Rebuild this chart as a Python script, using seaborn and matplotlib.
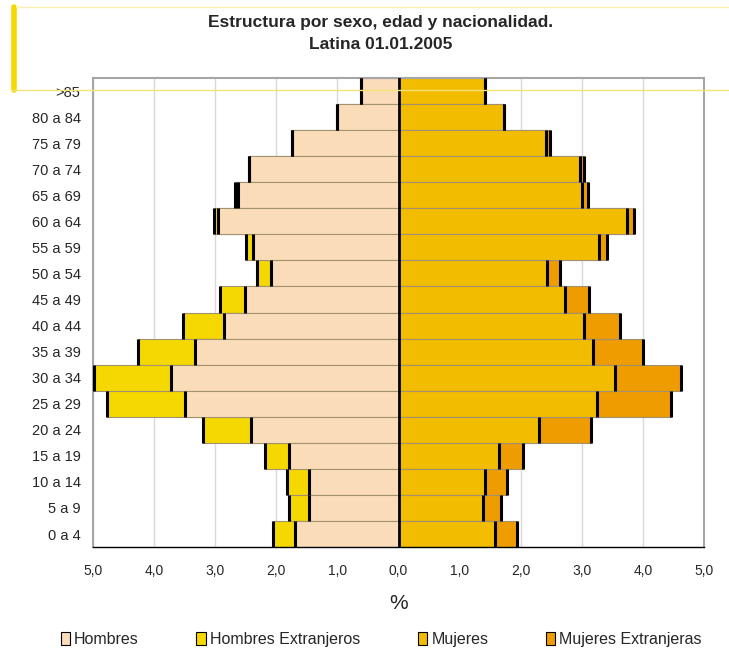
import numpy as np
import pandas as pd
import matplotlib
matplotlib.use("Agg")
import matplotlib.pyplot as plt
import seaborn as sns
from matplotlib.patches import Patch
from matplotlib.lines import Line2D
from matplotlib.ticker import FixedLocator, FuncFormatter

ages = [">85", "80 a 84", "75 a 79", "70 a 74", "65 a 69", "60 a 64", "55 a 59",
        "50 a 54", "45 a 49", "40 a 44", "35 a 39", "30 a 34", "25 a 29", "20 a 24",
        "15 a 19", "10 a 14", "5 a 9", "0 a 4"]
hombres = [0.61, 1.01, 1.74, 2.45, 2.63, 2.96, 2.38, 2.08, 2.51, 2.86, 3.33, 3.72,
           3.49, 2.41, 1.80, 1.47, 1.47, 1.70]
hombres_ext = [0.0, 0.0, 0.0, 0.0, 0.05, 0.06, 0.11, 0.24, 0.41, 0.67, 0.93, 1.26,
               1.28, 0.79, 0.39, 0.36, 0.33, 0.36]
mujeres = [1.42, 1.73, 2.42, 2.97, 3.01, 3.74, 3.28, 2.43, 2.72, 3.04, 3.18, 3.55,
           3.25, 2.30, 1.65, 1.42, 1.38, 1.58]
mujeres_ext = [0.0, 0.0, 0.06, 0.06, 0.09, 0.11, 0.14, 0.22, 0.39, 0.59, 0.82, 1.08,
               1.21, 0.85, 0.38, 0.35, 0.30, 0.36]

colors = {"Hombres": "#FADDB8", "Hombres Extranjeros": "#F5D800",
          "Mujeres": "#F2BC00", "Mujeres Extranjeras": "#EE9C00"}

sns.set_style("white")
plt.rcParams["font.family"] = ["Liberation Sans", "DejaVu Sans"]

h = np.array(hombres)
hx = h + np.array(hombres_ext)
m = np.array(mujeres)
mx = m + np.array(mujeres_ext)

fig = plt.figure(figsize=(7.29, 6.51), dpi=100)
ax = fig.add_axes([0.1276, 0.1597, 0.8381, 0.7205])

edge = "#a39270"
for vals, col in [(-hx, colors["Hombres Extranjeros"]), (-h, colors["Hombres"]),
                  (mx, colors["Mujeres Extranjeras"]), (m, colors["Mujeres"])]:
    sns.barplot(x=vals, y=ages, order=ages, orient="h", color=col, width=1.0,
                edgecolor=edge, linewidth=0.8, saturation=1, ax=ax, zorder=2)

# thick dark edge at the outer end of each segment
pos = np.arange(len(ages))
for vals in [-hx, -h, m, mx]:
    ax.vlines(vals, pos - 0.5, pos + 0.5, color="black", lw=2.2, zorder=3)
ax.axvline(0, color="black", lw=2, zorder=4)

ax.set_xlim(-5, 5)
ax.set_ylim(len(ages) - 0.5, -0.5)
ax.xaxis.set_major_locator(FixedLocator(np.arange(-5, 6, 1)))
ax.xaxis.set_major_formatter(FuncFormatter(lambda v, p: f"{abs(v):.1f}".replace(".", ",")))
ax.grid(axis="x", color="#d9d9d9", lw=1, zorder=0)
ax.set_axisbelow(True)
for s in ["top", "right", "left"]:
    ax.spines[s].set_color("#a6a6a6")
    ax.spines[s].set_linewidth(1.5)
ax.spines["bottom"].set_color("black")
ax.spines["bottom"].set_linewidth(1)
ax.tick_params(axis="x", direction="out", length=5, width=1, color="black",
               labelsize=10, pad=7)
ax.tick_params(axis="y", length=0, labelsize=10.5, pad=9)
ax.set_ylabel("")
ax.set_xlabel("%", fontsize=15, labelpad=12)

fig.text(0.522, 0.966, "Estructura por sexo, edad y nacionalidad.", ha="center",
         va="center", fontsize=12.5, fontweight="bold")
fig.text(0.522, 0.931, "Latina 01.01.2005", ha="center", va="center",
         fontsize=12.5, fontweight="bold")

# excel-like decorative frame lines
fig.add_artist(Line2D([0.0192, 0.0192], [0.862, 0.99], color="#F5D800", lw=4,
                      transform=fig.transFigure))
fig.add_artist(Line2D([0.016, 1.0], [0.862, 0.862], color="#F5E27A", lw=1,
                      transform=fig.transFigure, zorder=10))
fig.add_artist(Line2D([0.022, 1.0], [0.99, 0.99], color="#FBF0B0", lw=1,
                      transform=fig.transFigure))

handles = [Patch(facecolor=c, edgecolor="black", lw=0.8, label=k) for k, c in colors.items()]
fig.legend(handles=handles, loc="center", bbox_to_anchor=(0.523, 0.018), ncol=4,
           frameon=False, fontsize=11.5, handlelength=0.6, handleheight=0.9,
           handletextpad=0.25, columnspacing=3.6)

fig.savefig("out.png", dpi=100)
